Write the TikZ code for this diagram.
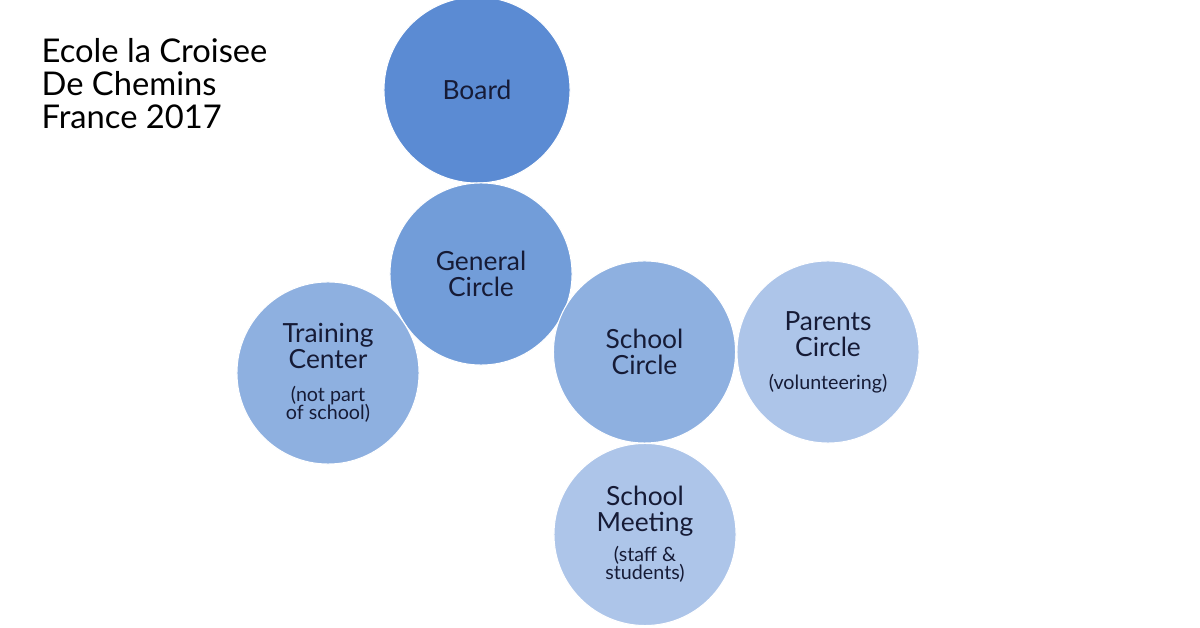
\documentclass[tikz,border=0pt]{standalone}
\usepackage{fontspec}
\setmainfont{Lato}
\usepackage{tikz}
\usetikzlibrary{positioning}
\definecolor{boardblue}{HTML}{5B8BD3}
\definecolor{genblue}{HTML}{729DD9}
\definecolor{midblue}{HTML}{8EB0E0}
\definecolor{paleblue}{HTML}{ADC5E9}
\definecolor{inkblue}{HTML}{161B36}
\newcommand{\subtxt}{\fontsize{5.6pt}{6pt}\selectfont}

\begin{document}
\begin{tikzpicture}[
  x=0.01cm, y=-0.01cm,
  font=\fontsize{7.5pt}{7.4pt}\selectfont,
  circ/.style={circle, draw=white, line width=0.3pt, inner sep=0pt,
               minimum size=1.82cm, align=center, text=inkblue},
  boardc/.style={circ, fill=boardblue, minimum size=1.86cm},
  genc/.style={circ, fill=genblue},
  midc/.style={circ, fill=midblue},
  palec/.style={circ, fill=paleblue},
  ttl/.style={font=\fontsize{9.3pt}{9.4pt}\selectfont, align=left,
              anchor=north west, inner sep=0pt},
]
\useasboundingbox[fill=white] (0,0) rectangle (1200,628);
\node[ttl] (title) at (41,38) {Ecole la Croisee\\De Chemins\\France 2017};
\node[boardc] (board) at (477,90) {Board};
\node[genc] (general) at (481,274) {General\\Circle};
\node[midc] (training) at (328,373)
  {Training\\Center\\[2pt]\subtxt(not part\\[-2.2pt]\subtxt of school)};
\node[midc] (school) at (644.5,352) {School\\Circle};
\node[palec] (parents) at (828,352)
  {Parents\\Circle\\[2pt]\subtxt(volunteering)};
\node[palec] (meeting) at (645,534.5)
  {School\\Meeting\\[1pt]\subtxt(staff \&\\[-2.2pt]\subtxt students)};
\end{tikzpicture}
\end{document}
